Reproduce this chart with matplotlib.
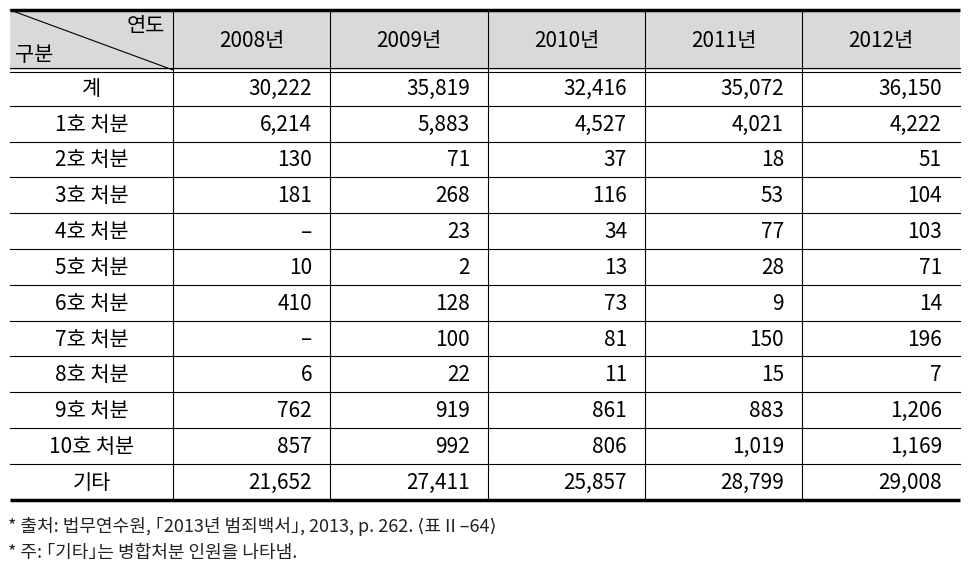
import matplotlib.pyplot as plt
from matplotlib.patches import Rectangle

plt.rcParams['font.family'] = ['Noto Sans CJK KR', 'DejaVu Sans']

years = ["2008년", "2009년", "2010년", "2011년", "2012년"]
categories = ["계", "1호 처분", "2호 처분", "3호 처분", "4호 처분", "5호 처분",
              "6호 처분", "7호 처분", "8호 처분", "9호 처분", "10호 처분", "기타"]
v2008 = [30222, 6214, 130, 181, None, 10, 410, None, 6, 762, 857, 21652]
v2009 = [35819, 5883, 71, 268, 23, 2, 128, 100, 22, 919, 992, 27411]
v2010 = [32416, 4527, 37, 116, 34, 13, 73, 81, 11, 861, 806, 25857]
v2011 = [35072, 4021, 18, 53, 77, 28, 9, 150, 15, 883, 1019, 28799]
v2012 = [36150, 4222, 51, 104, 103, 71, 14, 196, 7, 1206, 1169, 29008]
columns = [v2008, v2009, v2010, v2011, v2012]
notes = ["* 출처: 법무연수원, ｢2013년 범죄백서｣, 2013, p. 262. ⟨표 II –64⟩",
         "* 주: ｢기타｣는 병합처분 인원을 나타냄."]

fig = plt.figure(figsize=(9.74, 5.66), dpi=100)
ax = fig.add_axes([0, 0, 1, 1])
ax.set_xlim(0, 974)
ax.set_ylim(566, 0)
ax.axis('off')

left, right = 10, 960
col_x = [10, 173, 330, 488, 645, 802, 960]
top, head_bot = 10, 70
row_h = 35.8
bottom = head_bot + row_h * len(categories)

# header
ax.add_patch(Rectangle((left, top), right - left, head_bot - top,
                       facecolor='#d9d9d9', edgecolor='none'))
ax.plot([left, col_x[1]], [top, head_bot], color='black', lw=0.8)
ax.text(165, 26, "연도", ha='right', va='center', fontsize=15)
ax.text(15, 55, "구분", ha='left', va='center', fontsize=15)
for i, y in enumerate(years):
    cx = (col_x[i + 1] + col_x[i + 2]) / 2
    ax.text(cx, (top + head_bot) / 2 + 1, y, ha='center', va='center', fontsize=15)

# rows
for r, cat in enumerate(categories):
    cy = head_bot + row_h * (r + 0.5) + 1
    ax.text((col_x[0] + col_x[1]) / 2, cy, cat, ha='center', va='center', fontsize=15)
    for c, col in enumerate(columns):
        val = col[r]
        s = "–" if val is None else f"{val:,}"
        ax.text(col_x[c + 2] - 18, cy, s, ha='right', va='center', fontsize=15)
    if 0 < r:
        yl = head_bot + row_h * r
        ax.plot([left, right], [yl, yl], color='black', lw=0.8)

# rules
ax.plot([left, right], [top, top], color='black', lw=2.5, solid_capstyle='butt')
ax.plot([left, right], [head_bot - 2, head_bot - 2], color='black', lw=0.8)
ax.plot([left, right], [head_bot + 2, head_bot + 2], color='black', lw=0.8)
ax.plot([left, right], [bottom, bottom], color='black', lw=2.5, solid_capstyle='butt')
for x in col_x[1:-1]:
    ax.plot([x, x], [top, bottom], color='black', lw=0.8)

ax.text(8, 527, notes[0], ha='left', va='center', fontsize=13, color='#222222')
ax.text(8, 553, notes[1], ha='left', va='center', fontsize=13, color='#222222')

fig.savefig("out.png", dpi=100)
